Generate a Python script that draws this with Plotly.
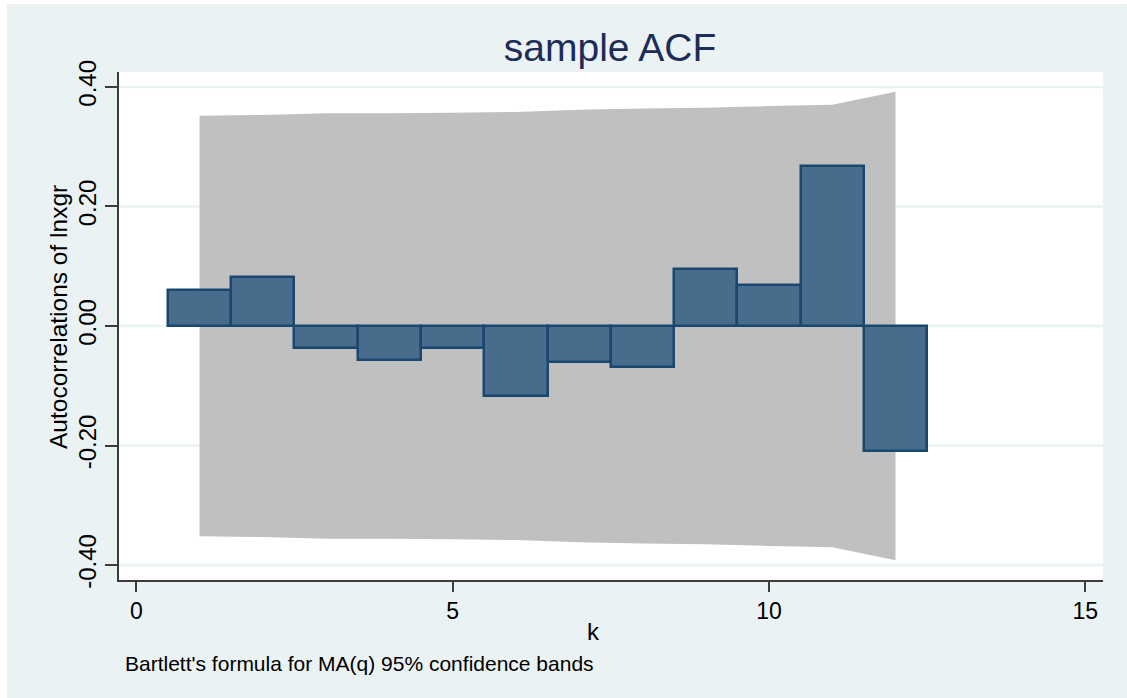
import plotly.graph_objects as go

# ---- data ----
lags = [1, 2, 3, 4, 5, 6, 7, 8, 9, 10, 11, 12]
acf = [0.061, 0.082, -0.036, -0.057, -0.036, -0.117, -0.060, -0.069, 0.095, 0.068, 0.267, -0.209]
band_upper = [0.352, 0.353, 0.356, 0.356, 0.357, 0.358, 0.362, 0.364, 0.365, 0.368, 0.370, 0.392]
band_lower = [-v for v in band_upper]

y_tickvals = [-0.4, -0.2, 0.0, 0.2, 0.4]
y_ticktext = ["-0.40", "-0.20", "0.00", "0.20", "0.40"]
x_tickvals = [0, 5, 10, 15]
x_ticktext = ["0", "5", "10", "15"]

title_text = "sample ACF"
x_title = "k"
y_title = "Autocorrelations of lnxgr"
note_text = "Bartlett's formula for MA(q) 95% confidence bands"

FONT = "Liberation Sans, Arial, Helvetica, sans-serif"
BG = "#EAF2F3"
NAVY = "#1A476F"
BAR_FILL = "#486C8C"
BAND = "#C0C0C0"
AXIS = "#3c3c3c"

# confidence band as a data-referenced path (drawn below the bars)
pts = list(zip(lags, band_upper)) + list(zip(lags[::-1], band_lower[::-1]))
band_path = "M " + " L ".join(f"{x},{y}" for x, y in pts) + " Z"

fig = go.Figure()

# autocorrelation bars
fig.add_trace(go.Bar(
    x=lags,
    y=acf,
    width=1.0,
    marker=dict(color=BAR_FILL, line=dict(color=NAVY, width=2.5)),
    showlegend=False,
))

# horizontal gridlines drawn as shapes so that the band covers them
grid_shapes = [
    dict(type="line", xref="x domain", yref="y", layer="below",
         x0=0, x1=1, y0=v, y1=v, line=dict(color=BG, width=2.5))
    for v in y_tickvals
]

fig.update_layout(
    width=1127,
    height=698,
    margin=dict(l=119, r=24, t=72, b=118),
    paper_bgcolor=BG,
    plot_bgcolor="white",
    font=dict(family=FONT, color="black"),
    bargap=0,
    title=dict(
        text=title_text,
        x=0.499, xref="paper", xanchor="center",
        y=1 - 47 / 698, yref="container", yanchor="middle",
        font=dict(size=39, color="#1c2d58", family=FONT),
    ),
    xaxis=dict(
        range=[-0.273, 15.28],
        tickvals=x_tickvals,
        ticktext=x_ticktext,
        ticks="outside",
        ticklen=10,
        tickwidth=1.5,
        tickcolor=AXIS,
        showline=True,
        linecolor=AXIS,
        linewidth=1.5,
        showgrid=False,
        zeroline=False,
        tickfont=dict(size=23, color="black"),
    ),
    yaxis=dict(
        range=[-0.425, 0.425],
        tickvals=y_tickvals,
        ticktext=y_ticktext,
        tickangle=-90,
        ticks="outside",
        ticklen=12,
        tickwidth=1.5,
        tickcolor=AXIS,
        showline=True,
        linecolor=AXIS,
        linewidth=1.5,
        showgrid=False,
        zeroline=False,
        tickfont=dict(size=24, color="black"),
    ),
    annotations=[
        dict(text=x_title, xref="paper", yref="paper",
             x=(593 - 119) / 984, y=(580 - 631) / 508,
             xanchor="center", yanchor="middle", showarrow=False,
             font=dict(size=24, color="black")),
        dict(text=y_title, xref="paper", yref="paper",
             x=(58 - 119) / 984, y=(580 - 317) / 508,
             xanchor="center", yanchor="middle", showarrow=False,
             textangle=-90,
             font=dict(size=24.5, color="black")),
        dict(text=note_text, xref="paper", yref="paper",
             x=(123 - 119) / 984, y=(580 - 663) / 508,
             xanchor="left", yanchor="middle", showarrow=False,
             font=dict(size=21, color="black")),
    ],
    shapes=grid_shapes + [
        dict(type="path", xref="x", yref="y", layer="below",
             path=band_path, fillcolor=BAND, line=dict(width=0)),
        # white border strips of the outer frame
        dict(type="rect", xref="paper", yref="paper", layer="above",
             x0=-119 / 984 - 0.01, x1=(7 - 119) / 984, y0=-118 / 508 - 0.01, y1=1 + 72 / 508 + 0.01,
             fillcolor="white", line=dict(width=0)),
        dict(type="rect", xref="paper", yref="paper", layer="above",
             x0=-119 / 984 - 0.01, x1=1 + 24 / 984 + 0.01, y0=(580 - 4) / 508, y1=1 + 72 / 508 + 0.01,
             fillcolor="white", line=dict(width=0)),
    ],
)

fig.write_html("out.html")
